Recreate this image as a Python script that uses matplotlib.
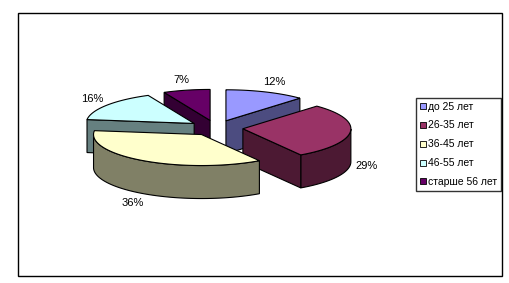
import numpy as np
import matplotlib.pyplot as plt
from matplotlib.patches import Polygon, Rectangle
from matplotlib.lines import Line2D

groups = ['до 25 лет', '26-35 лет', '36-45 лет', '46-55 лет', 'старше 56 лет']
shares = [12, 29, 36, 16, 7]
top_colors = ['#9999FF', '#993366', '#FFFFCC', '#CCFFFF', '#660066']
side_colors = ['#4C4C80', '#4C1933', '#808066', '#668080', '#330033']

plt.rcParams['font.family'] = ['Liberation Sans', 'DejaVu Sans']

fig = plt.figure(figsize=(5.09, 2.83), dpi=100)
ax = fig.add_axes([0, 0, 1, 1])
ax.set_xlim(0, 509)
ax.set_ylim(283, 0)
ax.axis('off')

# рамка области диаграммы
ax.add_patch(Rectangle((18, 13), 484, 263, fill=False, lw=1, ec='black'))

cx, cy = 216, 128   # центр круга (пиксели)
rx, ry = 108, 31    # полуоси эллипса
h = 33              # толщина
expl = 0.25         # разнесение секторов


def rim(x0, y0, t, dy=0):
    return np.column_stack([x0 + rx*np.cos(t), y0 - ry*np.sin(t) + dy])


fracs = np.array(shares) / sum(shares)
starts = np.pi/2 - 2*np.pi*np.concatenate([[0], np.cumsum(fracs)[:-1]])
ends = starts - 2*np.pi*fracs
mids = (starts + ends) / 2
ox = cx + expl*rx*np.cos(mids)
oy = cy - expl*ry*np.sin(mids)

kw = dict(ec='black', lw=0.8, joinstyle='miter')
for i in np.argsort(oy):
    x0, y0 = ox[i], oy[i]
    a1, a2 = starts[i], ends[i]
    t = np.linspace(a1, a2, 200)
    # внешняя стенка (только передняя часть)
    tf = t[np.sin(t) < 0]
    if len(tf) > 1:
        wall = np.vstack([rim(x0, y0, tf), rim(x0, y0, tf[::-1], h)])
        ax.add_patch(Polygon(wall, fc=side_colors[i], **kw))
    # боковые грани
    for a, vis in [(a1, np.cos(a1) < -1e-9), (a2, np.cos(a2) > 1e-9)]:
        if vis:
            p = rim(x0, y0, np.array([a]))[0]
            face = [(x0, y0), p, (p[0], p[1] + h), (x0, y0 + h)]
            ax.add_patch(Polygon(face, fc=side_colors[i], **kw))
    # верх
    top = np.vstack([[x0, y0], rim(x0, y0, t)])
    ax.add_patch(Polygon(top, fc=top_colors[i], **kw))

# подписи
for i, s in enumerate(shares):
    m = mids[i]
    k = 1.25 - 0.1*abs(np.cos(m))
    lx = ox[i] + k*rx*np.cos(m)
    ly = oy[i] - 1.35*ry*np.sin(m) + (h if np.sin(m) < 0 else 0)
    ax.text(lx, ly, f'{s}%', ha='center', va='center', fontsize=8)

handles = [Line2D([], [], ls='none', marker='s', ms=4.3, mfc=c, mec='black', mew=0.6)
           for c in top_colors]
leg = ax.legend(handles, groups, loc='upper left', bbox_to_anchor=(416/509, 1 - 98/283),
                borderaxespad=0, fontsize=7.5, frameon=True, fancybox=False,
                edgecolor='black', handlelength=0.6, handletextpad=0.2,
                borderpad=0.35, labelspacing=0.85)
leg.get_frame().set_linewidth(1)

fig.savefig('out.png', dpi=100)
